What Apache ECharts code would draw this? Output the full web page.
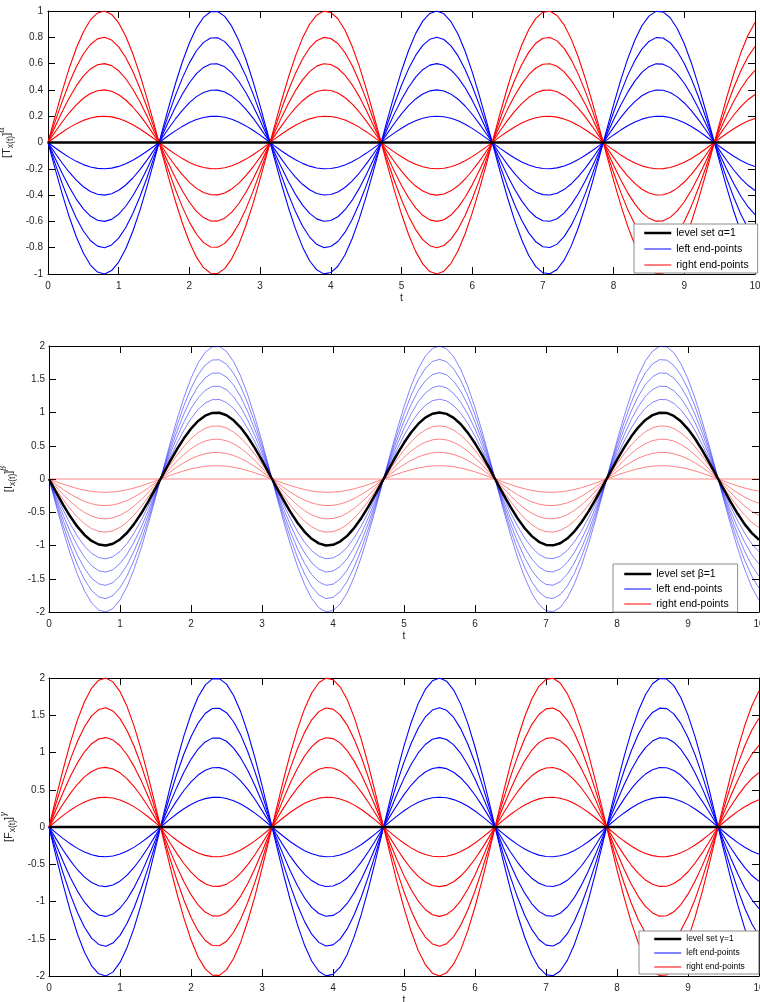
<!DOCTYPE html>
<html><head><meta charset="utf-8">
<script src="https://cdn.jsdelivr.net/npm/echarts@6/dist/echarts.min.js"></script>
<style>html,body{margin:0;padding:0;background:#fff}#c{width:760px;height:1002px}</style>
</head><body><div id="c"></div>
<script>
// ---- data ----
const tValues = [0,0.1,0.2,0.3,0.4,0.5,0.6,0.7,0.8,0.9,1,1.1,1.2,1.3,1.4,1.5,1.6,1.7,1.8,1.9,2,2.1,2.2,2.3,2.4,2.5,2.6,2.7,2.8,2.9,3,3.1,3.2,3.3,3.4,3.5,3.6,3.7,3.8,3.9,4,4.1,4.2,4.3,4.4,4.5,4.6,4.7,4.8,4.9,5,5.1,5.2,5.3,5.4,5.5,5.6,5.7,5.8,5.9,6,6.1,6.2,6.3,6.4,6.5,6.6,6.7,6.8,6.9,7,7.1,7.2,7.3,7.4,7.5,7.6,7.7,7.8,7.9,8,8.1,8.2,8.3,8.4,8.5,8.6,8.7,8.8,8.9,9,9.1,9.2,9.3,9.4,9.5,9.6,9.7,9.8,9.9,10];
// unit wave shape (value of the unit-amplitude curve at each t)
const waveShape = [0,0.199,0.389,0.565,0.717,0.841,0.932,0.985,1.000,0.974,
0.909,0.808,0.675,0.516,0.335,0.141,-0.058,-0.256,-0.443,-0.612,
-0.757,-0.872,-0.952,-0.994,-0.996,-0.959,-0.883,-0.773,-0.631,-0.465,
-0.279,-0.083,0.117,0.312,0.494,0.657,0.794,0.899,0.968,0.999,
0.989,0.941,0.855,0.734,0.585,0.412,0.223,0.025,-0.174,-0.366,
-0.544,-0.700,-0.828,-0.923,-0.981,-1.000,-0.979,-0.919,-0.823,-0.694,
-0.537,-0.358,-0.166,0.034,0.232,0.420,0.592,0.740,0.859,0.944,
0.991,0.998,0.966,0.895,0.788,0.650,0.486,0.303,0.108,-0.092,
-0.288,-0.472,-0.638,-0.778,-0.888,-0.961,-0.997,-0.993,-0.949,-0.867,
-0.751,-0.605,-0.435,-0.247,-0.050,0.150,0.343,0.523,0.682,0.814,
0.913];

const panel1LevelAmp = 0;
const panel1LeftAmps = [-0.2, -0.4, -0.6, -0.8, -1.0];
const panel1RightAmps = [0.2, 0.4, 0.6, 0.8, 1.0];

const panel2LevelAmp = -1;
const panel2LeftAmps = [-1.2, -1.4, -1.6, -1.8, -2.0];
const panel2RightAmps = [-0.8, -0.6, -0.4, -0.2, 0];

const panel3LevelAmp = 0;
const panel3LeftAmps = [-0.4, -0.8, -1.2, -1.6, -2.0];
const panel3RightAmps = [0.4, 0.8, 1.2, 1.6, 2.0];

const xRange = [0, 10, 1];
const panel1YRange = [-1, 1, 0.2];
const panel2YRange = [-2, 2, 0.5];
const panel3YRange = [-2, 2, 0.5];

const legendNames1 = ['level set α=1', 'left end-points', 'right end-points'];
const legendNames2 = ['level set β=1', 'left end-points', 'right end-points'];
const legendNames3 = ['level set γ=1', 'left end-points', 'right end-points'];
const yNames = [['T', 'α'], ['I', 'β'], ['F', 'γ']];

// ---- build ----
const FONT = "'Liberation Sans', Arial, Helvetica, sans-serif";
const TXT = '#262626';
function curve(amp) { return tValues.map((t, i) => [t, +(amp * waveShape[i]).toFixed(4)]); }

const grids = [
  {left: 48, top: 11, width: 707, height: 263, outerBoundsMode: 'none', containLabel: false},
  {left: 49, top: 346, width: 710, height: 266, outerBoundsMode: 'none', containLabel: false},
  {left: 49, top: 678, width: 710, height: 298, outerBoundsMode: 'none', containLabel: false}
];
const yRanges = [panel1YRange, panel2YRange, panel3YRange];
const yLabelMargin = [5, 4, 4];
const yNameGap = [22, 24, 24];

const xAxis = [], yAxis = [];
grids.forEach((g, gi) => {
  const axLine = {show: true, onZero: false, lineStyle: {color: '#000', width: 1}};
  const tick = {show: true, inside: true, length: 7, lineStyle: {color: '#000', width: 1}};
  xAxis.push({type: 'value', gridIndex: gi, position: 'bottom', min: xRange[0], max: xRange[1], interval: xRange[2],
    axisLine: axLine, axisTick: tick, splitLine: {show: false},
    axisLabel: {color: TXT, fontSize: 10, fontFamily: FONT, margin: 7},
    name: 't', nameLocation: 'middle', nameGap: 19, nameTextStyle: {color: TXT, fontSize: 10.5, fontFamily: FONT}});
  xAxis.push({type: 'value', gridIndex: gi, position: 'top', min: xRange[0], max: xRange[1], interval: xRange[2],
    axisLine: axLine, axisTick: tick, splitLine: {show: false}, axisLabel: {show: false}});
  const yr = yRanges[gi];
  const nm = yNames[gi];
  yAxis.push({type: 'value', gridIndex: gi, position: 'left', min: yr[0], max: yr[1], interval: yr[2],
    axisLine: axLine, axisTick: tick, splitLine: {show: false},
    axisLabel: {color: TXT, fontSize: 10, fontFamily: FONT, margin: yLabelMargin[gi]},
    name: '{a|[' + nm[0] + '}{b|x(t)}{a|]}{c|' + nm[1] + '}',
    nameLocation: 'middle', nameRotate: 90, nameGap: yNameGap[gi],
    nameTextStyle: {rich: {
      a: {fontSize: 11, fontFamily: FONT, color: TXT, padding: [0, 0, 2, 0], verticalAlign: 'bottom'},
      b: {fontSize: 8.5, fontFamily: FONT, color: TXT, verticalAlign: 'bottom'},
      c: {fontSize: 8.5, fontFamily: "'DejaVu Serif', serif", fontStyle: 'italic', color: TXT, padding: [0, 0, 9, 0], verticalAlign: 'bottom'}
    }}});
  yAxis.push({type: 'value', gridIndex: gi, position: 'right', min: yr[0], max: yr[1], interval: yr[2],
    axisLine: axLine, axisTick: tick, splitLine: {show: false}, axisLabel: {show: false}});
});

const series = [];
function addLine(name, amp, gi, color, width, opacity) {
  series.push({type: 'line', name: name, xAxisIndex: 2 * gi, yAxisIndex: 2 * gi,
    data: curve(amp), symbol: 'none', showSymbol: false, smooth: false, silent: true,
    lineStyle: {color: color, width: width, opacity: opacity}, itemStyle: {color: color},
    emphasis: {disabled: true}});
}
const panels = [
  {names: legendNames1, level: panel1LevelAmp, left: panel1LeftAmps, right: panel1RightAmps, w: 1.1, op: 1},
  {names: legendNames2, level: panel2LevelAmp, left: panel2LeftAmps, right: panel2RightAmps, w: 0.9, op: 0.55},
  {names: legendNames3, level: panel3LevelAmp, left: panel3LeftAmps, right: panel3RightAmps, w: 1.1, op: 1}
];
panels.forEach((p, gi) => {
  p.left.forEach(a => addLine(p.names[1], a, gi, '#0000ff', p.w, p.op));
  p.right.forEach(a => addLine(p.names[2], a, gi, '#ff0000', p.w, p.op));
  addLine(p.names[0], p.level, gi, '#000000', 2.5, 1);
});

function legendFor(names, pos) {
  return {orient: 'vertical', left: pos.left, top: pos.top, padding: pos.padding,
    itemWidth: pos.iw, itemHeight: pos.ih, itemGap: pos.gap, selectedMode: false,
    backgroundColor: '#fff', borderColor: '#8c8c8c', borderWidth: 1, borderRadius: 0,
    textStyle: {fontFamily: FONT, fontSize: pos.fs, color: '#000', lineHeight: pos.ih},
    itemStyle: {opacity: 0},
    data: [
      {name: names[0], lineStyle: {color: '#000', width: 2.5, opacity: 1}},
      {name: names[1], lineStyle: {color: '#0000ff', width: 1, opacity: 1}},
      {name: names[2], lineStyle: {color: '#ff0000', width: 1, opacity: 1}}
    ]};
}
const legend = [
  legendFor(legendNames1, {left: 634, top: 224, padding: [2, 9, 1, 9], iw: 27, ih: 14, gap: 2, fs: 10.5}),
  legendFor(legendNames2, {left: 613, top: 564, padding: [3, 9, 1, 10], iw: 27, ih: 14, gap: 1, fs: 10.5}),
  legendFor(legendNames3, {left: 639, top: 931, padding: [2, 14, 1, 14], iw: 27, ih: 12, gap: 2, fs: 8.5})
];

const chart = echarts.init(document.getElementById('c'), null, {renderer: 'canvas'});
chart.setOption({animation: false, backgroundColor: '#fff', grid: grids, xAxis: xAxis, yAxis: yAxis, legend: legend, series: series});
</script></body></html>
